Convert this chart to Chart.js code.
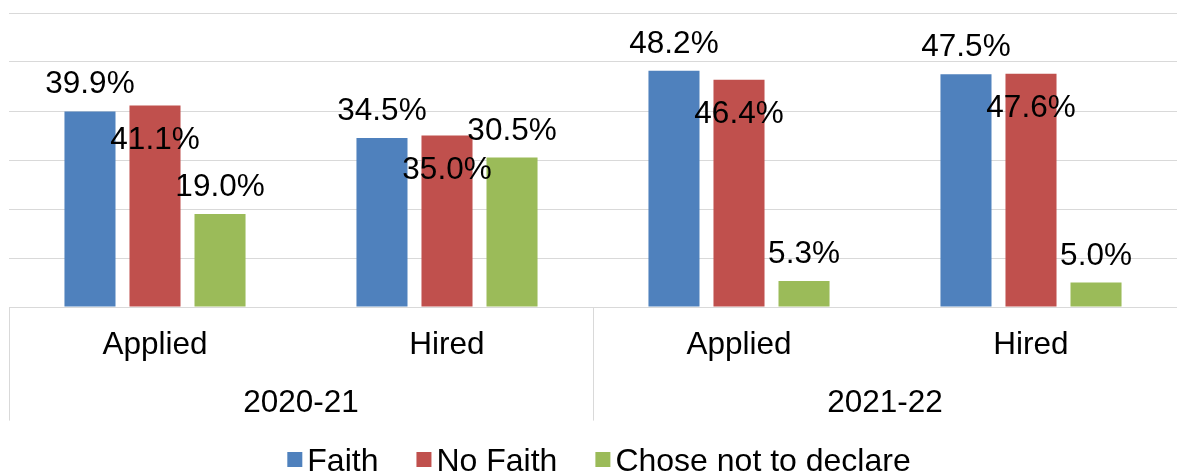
<!DOCTYPE html>
<html><head><meta charset="utf-8">
<script src="https://cdn.jsdelivr.net/npm/chart.js@4.4.0/dist/chart.umd.min.js"></script>
<style>html,body{margin:0;padding:0;background:#fff;overflow:hidden}</style>
</head><body>
<canvas id="c" width="1177" height="474"></canvas>
<script>
const categories = ['Applied', 'Hired', 'Applied', 'Hired'];
const groups = ['2020-21', '2021-22'];
const seriesNames = ['Faith', 'No Faith', 'Chose not to declare'];
const faith = [39.9, 34.5, 48.2, 47.5];
const noFaith = [41.1, 35.0, 46.4, 47.6];
const notDeclared = [19.0, 30.5, 5.3, 5.0];
const yMin = 0, yMax = 60, yStep = 10;

const colors = ['#4F81BD', '#C0504D', '#9BBB59'];
const FONT = '"Liberation Sans", Arial, sans-serif';
const labelBaselineOffset = [-18, 43, -18];

const valueLabels = {
  id: 'valueLabels',
  afterDatasetsDraw(chart) {
    const ctx = chart.ctx;
    ctx.save();
    ctx.font = '31.5px ' + FONT;
    ctx.fillStyle = '#000';
    ctx.textAlign = 'center';
    ctx.textBaseline = 'alphabetic';
    chart.data.datasets.forEach((ds, i) => {
      const meta = chart.getDatasetMeta(i);
      meta.data.forEach((bar, j) => {
        ctx.fillText(ds.data[j].toFixed(1) + '%', bar.x, bar.y + labelBaselineOffset[i]);
      });
    });
    ctx.restore();
  }
};

const separators = {
  id: 'separators',
  afterDraw(chart) {
    const ctx = chart.ctx, x = chart.scales.x, x2 = chart.scales.x2;
    const n = x.ticks.length, per = n / groups.length;
    ctx.save();
    ctx.strokeStyle = '#D9D9D9';
    ctx.lineWidth = 1;
    for (let g = 0; g < groups.length; g++) {
      let px;
      if (g === 0) px = x.left;
      else px = (x.getPixelForTick(g * per - 1) + x.getPixelForTick(g * per)) / 2;
      px = Math.round(px) + 0.5;
      ctx.beginPath();
      ctx.moveTo(px, chart.chartArea.bottom);
      ctx.lineTo(px, x2.bottom - 4);
      ctx.stroke();
    }
    ctx.restore();
  }
};

const customLegend = {
  id: 'customLegend',
  afterDraw(chart) {
    const ctx = chart.ctx;
    ctx.save();
    ctx.font = '32px ' + FONT;
    const box = 15, gapText = 5, gapItem = 38;
    const widths = seriesNames.map(s => ctx.measureText(s).width);
    let total = 0;
    widths.forEach((w, i) => { total += box + gapText + w + (i < widths.length - 1 ? gapItem : 0); });
    let xPos = (chart.chartArea.left + chart.chartArea.right) / 2 + 6 - total / 2;
    const baseline = chart.height - 3;
    ctx.textBaseline = 'alphabetic';
    ctx.textAlign = 'left';
    seriesNames.forEach((s, i) => {
      ctx.fillStyle = colors[i];
      ctx.fillRect(xPos, baseline - 19, box, box);
      ctx.fillStyle = '#000';
      ctx.fillText(s, xPos + box + gapText, baseline);
      xPos += box + gapText + widths[i] + gapItem;
    });
    ctx.restore();
  }
};

new Chart(document.getElementById('c'), {
  type: 'bar',
  data: {
    labels: categories,
    datasets: [
      { label: seriesNames[0], data: faith, backgroundColor: colors[0] },
      { label: seriesNames[1], data: noFaith, backgroundColor: colors[1] },
      { label: seriesNames[2], data: notDeclared, backgroundColor: colors[2] }
    ]
  },
  options: {
    responsive: false,
    animation: false,
    devicePixelRatio: 1,
    layout: { padding: { top: 13, left: 9, right: 0, bottom: 49.4 } },
    datasets: { bar: { categoryPercentage: 0.668, barPercentage: 0.785, borderWidth: 0 } },
    plugins: { legend: { display: false }, tooltip: { enabled: false } },
    scales: {
      y: {
        min: yMin, max: yMax,
        ticks: { stepSize: yStep, display: false },
        grid: { color: '#D9D9D9', drawTicks: false, lineWidth: 1 },
        border: { display: false }
      },
      x: {
        weight: 0,
        grid: { display: false, drawTicks: false },
        border: { display: true, color: '#D9D9D9' },
        ticks: { color: '#000', font: { family: FONT, size: 31.5, lineHeight: 1.2 }, padding: 19, maxRotation: 0, autoSkip: false }
      },
      x2: {
        type: 'category',
        labels: groups,
        position: 'bottom',
        offset: true,
        weight: 1,
        grid: { display: false, drawTicks: false },
        border: { display: false },
        ticks: { color: '#000', font: { family: FONT, size: 31.5, lineHeight: 1.2 }, padding: 2, maxRotation: 0, autoSkip: false }
      }
    }
  },
  plugins: [valueLabels, separators, customLegend]
});
</script>
</body></html>
